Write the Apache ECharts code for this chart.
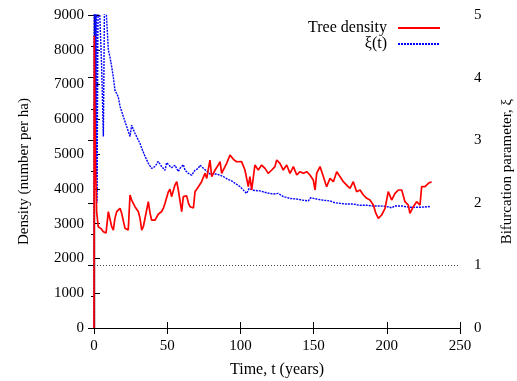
<!DOCTYPE html>
<html>
<head>
<meta charset="utf-8">
<script src="https://cdn.jsdelivr.net/npm/echarts@6/dist/echarts.min.js"></script>
<style>
  html, body { margin: 0; padding: 0; background: #fff; }
  #chart { width: 517px; height: 381px; }
</style>
</head>
<body>
<div id="chart"></div>
<script>
// tree density (number per ha) against time (years)
const densityTime = [0, 0.2, 0.6, 1.0, 1.5, 1.8, 2.9, 4.1, 5.0, 6.4, 8.2, 9.8, 10.7, 12.1, 13.2, 14.3, 15.5, 17.8, 18.9, 20,
  21.2, 23.4, 24.6, 25.7, 28, 30.3, 31.4, 32.6, 33.7, 36, 37.1, 38.3, 39.4, 41.7, 43.9, 46.2, 47.4, 48.5, 49.6, 50.8,
  51.9, 53, 55.3, 56.5, 57.6, 58.7, 59.9, 61, 63.3, 64.5, 65.6, 67.9, 69, 71.3, 73.5, 75.8, 77, 79.2, 80.4, 82.7,
  84.9, 86.1, 87.2, 88.3, 89.5, 90.6, 91.7, 92.9, 95.2, 97.4, 98.6, 100.8, 103.1, 105.4, 106.5, 107.7, 109.9, 112.2, 114.5, 116.8,
  119, 121.4, 123.6, 124.8, 127, 129.3, 131.6, 133.9, 136.2, 138.5, 140.7, 143, 145.3, 147.5, 149.8, 151, 152.1, 154.4, 156.7, 158.9,
  161.2, 163.5, 165.8, 168.1, 170.3, 172.6, 174.9, 177.1, 179.4, 181.7, 184, 186.3, 188.5, 190.8, 192.5, 194.2, 196.5, 198.8, 201, 203.3,
  205.6, 207.9, 210.2, 212.4, 214.7, 215.8, 218.1, 220.4, 222.7, 223.8, 226.1, 228.4, 230.6]
const densityValue = [0, 8400, 6200, 4600, 3970, 3340, 2912, 2961, 2850, 2770, 2730, 3344, 3297, 2912, 2817, 3153, 3344, 3441, 3297, 3249,
  2865, 2817, 3824, 3680, 3488, 3344, 3160, 2817, 2912, 3400, 3632, 3297, 3100, 3100, 3270, 3350, 3450, 3584, 3593, 3920,
  3990, 3776, 4111, 4207, 3968, 3920, 3344, 3776, 3800, 3593, 3488, 3450, 3920, 4063, 4207, 4447, 4303, 4830, 4351, 4543,
  4686, 4782, 4447, 4543, 4638, 4735, 4735, 4974, 4850, 4780, 4782, 4782, 4543, 4063, 4351, 3968, 4686, 4543, 4686, 4590,
  4447, 4543, 4640, 4830, 4735, 4543, 4686, 4447, 4640, 4399, 4495, 4447, 4495, 4399, 4255, 3968, 4447, 4640, 4351, 4063,
  4303, 4207, 4495, 4351, 4207, 4111, 4015, 4207, 3920, 3968, 3824, 3729, 3680, 3536, 3300, 3153, 3249, 3440, 3920, 3680,
  3870, 3968, 3968, 3632, 3536, 3297, 3488, 3632, 3536, 4063, 4063, 4160, 4207]

// bifurcation parameter xi(t)
const xiTime = [0, 0.2, 0.5, 0.8, 1.2, 1.5, 2.1, 2.6, 3.0, 4.3, 5.2, 6.4, 7.3, 8.2, 8.7, 9.8, 10.9, 12.1, 13.2, 14.3,
  16.6, 17.8, 20, 22.3, 24.6, 25.7, 28, 30.3, 31.4, 32.6, 34.9, 37.1, 39.4, 40.5, 41.7, 43.9, 46.2, 48.5, 49.6, 50.8,
  53, 55.3, 57.6, 58.7, 59.9, 61, 62.2, 64.5, 65.6, 66.7, 69, 71.3, 72.4, 73.5, 75.8, 79.2, 80.4, 83.8, 86.1, 88.3,
  91.7, 93.5, 95.2, 96.3, 99.7, 100.8, 104.2, 106, 108.8, 113.3, 117.9, 122.5, 125.9, 129.3, 133.9, 138.5, 143, 146.4, 148, 152.1,
  156.7, 161.2, 164.7, 168.1, 172.6, 177.1, 181.7, 186.3, 190.8, 195.4, 199.9, 203.3, 205.6, 210.2, 214.7, 219.2, 223.8, 229.5]
const xiValue = [0, 5.6, 2.8, 5.6, 2.4, 5.6, 2.0, 4.6, 5.6, 5.6, 4.2, 3.06, 5.6, 5.1, 4.9, 4.44, 4.33, 4.17, 4.01, 3.80,
  3.69, 3.54, 3.38, 3.22, 3.06, 3.24, 3.11, 3.0, 2.95, 2.87, 2.74, 2.63, 2.55, 2.52, 2.58, 2.66, 2.58, 2.52, 2.64, 2.63,
  2.56, 2.60, 2.50, 2.55, 2.58, 2.61, 2.52, 2.47, 2.47, 2.44, 2.52, 2.55, 2.60, 2.60, 2.53, 2.46, 2.44, 2.46, 2.44, 2.42,
  2.37, 2.36, 2.33, 2.31, 2.26, 2.23, 2.15, 2.23, 2.20, 2.19, 2.16, 2.14, 2.15, 2.10, 2.07, 2.06, 2.04, 2.03, 2.08, 2.06,
  2.04, 2.03, 2.00, 1.99, 1.98, 1.98, 1.96, 1.96, 1.95, 1.95, 1.94, 1.92, 1.95, 1.95, 1.93, 1.93, 1.93, 1.94]

const xiThreshold = 1

const font = 'Liberation Serif'
const zip = (xs, ys) => xs.map((x, i) => [x, ys[i]])

const chart = echarts.init(document.getElementById('chart'))

const frameLine = { show: true, lineStyle: { color: '#000', width: 1.2 } }
const inTick = { show: true, inside: true, length: 6, lineStyle: { color: '#000', width: 1 } }
const label = { color: '#000', fontFamily: font, fontSize: 15, formatter: v => String(v) }
const nameStyle = { color: '#000', fontFamily: font, fontSize: 16 }

chart.setOption({
  animation: false,
  backgroundColor: '#fff',
  grid: { left: 94, right: 57, top: 15, bottom: 53, outerBoundsMode: 'none' },
  legend: {
    orient: 'vertical',
    right: 76,
    top: 20,
    padding: 0,
    align: 'right',
    itemWidth: 42,
    itemHeight: 10,
    itemGap: 0,
    itemStyle: { opacity: 0 },
    textStyle: { color: '#000', fontFamily: font, fontSize: 16, lineHeight: 15, padding: [0, 6, 0, 0] },
    data: ['Tree density', 'ξ(t)']
  },
  xAxis: [{
    type: 'value',
    min: 0,
    max: 250,
    interval: 50,
    name: 'Time, t (years)',
    nameLocation: 'middle',
    nameGap: 34,
    nameTextStyle: nameStyle,
    axisLine: frameLine,
    axisTick: inTick,
    axisLabel: Object.assign({}, label, { margin: 11 }),
    splitLine: { show: false }
  }, {
    type: 'value',
    position: 'top',
    min: 0,
    max: 250,
    interval: 50,
    axisLine: frameLine,
    axisTick: inTick,
    axisLabel: { show: false },
    splitLine: { show: false }
  }],
  yAxis: [{
    type: 'value',
    min: 0,
    max: 9000,
    interval: 1000,
    name: 'Density (number per ha)',
    nameLocation: 'middle',
    nameRotate: 90,
    nameGap: 62,
    nameTextStyle: Object.assign({}, nameStyle, { fontSize: 15 }),
    axisLine: frameLine,
    axisTick: inTick,
    axisLabel: Object.assign({}, label, { margin: 10 }),
    splitLine: { show: false }
  }, {
    type: 'value',
    position: 'right',
    min: 0,
    max: 5,
    interval: 1,
    name: 'Bifurcation parameter, ξ',
    nameLocation: 'middle',
    nameRotate: 90,
    nameGap: 40,
    nameTextStyle: Object.assign({}, nameStyle, { fontSize: 15 }),
    axisLine: frameLine,
    axisTick: inTick,
    minorTick: { show: true, splitNumber: 2, length: 3, lineStyle: { color: '#000', width: 1 } },
    axisLabel: Object.assign({}, label, { margin: 14 }),
    splitLine: { show: false }
  }],
  series: [{
    name: 'Tree density',
    type: 'line',
    yAxisIndex: 0,
    symbol: 'none',
    clip: true,
    lineStyle: { color: '#ff0000', width: 1.7 },
    itemStyle: { color: '#ff0000' },
    data: zip(densityTime, densityValue),
    z: 3
  }, {
    name: 'ξ(t)',
    type: 'line',
    yAxisIndex: 1,
    symbol: 'none',
    clip: true,
    lineStyle: { color: '#0000ff', width: 1.4, type: [2, 1] },
    itemStyle: { color: '#0000ff' },
    data: zip(xiTime, xiValue),
    z: 2,
    markLine: {
      silent: true,
      symbol: 'none',
      label: { show: false },
      lineStyle: { color: '#444', width: 1, type: [1, 2] },
      data: [{ yAxis: xiThreshold }]
    }
  }]
})
</script>
</body>
</html>
